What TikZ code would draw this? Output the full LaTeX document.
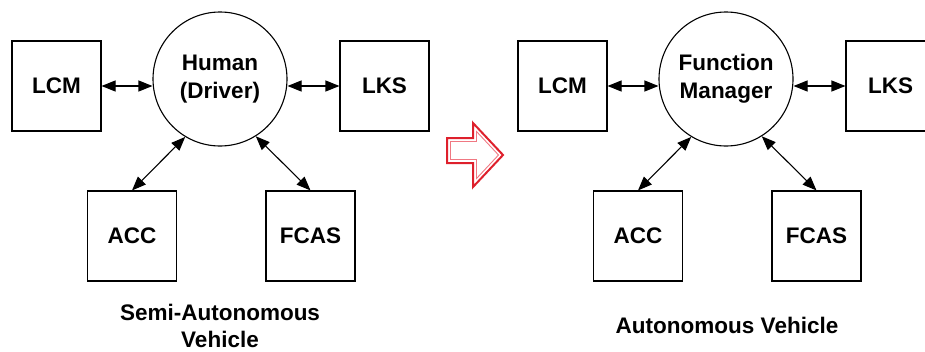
\documentclass[tikz,border=0pt]{standalone}
\usepackage{fontspec}
\setmainfont{Liberation Sans}
\usetikzlibrary{arrows.meta}
\definecolor{arrowred}{RGB}{222,32,44}
\definecolor{arrowpink}{RGB}{240,120,130}
\begin{document}
\begin{tikzpicture}[x=1pt,y=-1pt,
  every node/.style={font=\fontsize{22.5}{28}\selectfont\bfseries},
  blk/.style={draw,line width=1.1pt,minimum width=89pt,minimum height=90pt,inner sep=0pt},
  hub/.style={draw,circle,line width=1.1pt,minimum size=134pt,inner sep=0pt,align=center},
  link/.style={{Triangle[length=14pt,width=11pt]}-{Triangle[length=14pt,width=11pt]},line width=1.1pt},
  caption/.style={align=center,font=\fontsize{22.5}{27}\selectfont\bfseries}]
\useasboundingbox (0,0) rectangle (925,351);
% left diagram
\node[blk] (lcmA) at (56.5,86) {LCM};
\node[blk] (lksA) at (384.5,86) {LKS};
\node[blk] (accA) at (132,236) {ACC};
\node[blk] (fcasA) at (310.5,236) {FCAS};
\node[hub] (human) at (220,79) {Human\\(Driver)};
\draw[link] (lcmA.east) -- (human.west |- lcmA.east);
\draw[link] (human.east |- lksA.west) -- (lksA.west);
\draw[link] (human.239) -- (accA.north);
\draw[link] (human.302) -- (fcasA.north);
\node[caption,anchor=base] (capA) at (220,347) {Semi-Autonomous\\Vehicle};
% transition arrow
\draw[arrowred,line width=2pt,line join=miter]
  (447,138) -- (473,138) -- (473,123) -- (503,155) -- (473,187) -- (473,163) -- (447,163) -- cycle;
\draw[arrowpink,line width=0.9pt,line join=miter]
  (450.5,141.5) -- (476.5,141.5) -- (476.5,131.5) -- (498.5,155) -- (476.5,178.5) -- (476.5,159.5) -- (450.5,159.5) -- cycle;
% right diagram
\node[blk] (lcmB) at (562.5,86) {LCM};
\node[blk] (lksB) at (890.5,86) {LKS};
\node[blk] (accB) at (638,236) {ACC};
\node[blk] (fcasB) at (816.5,236) {FCAS};
\node[hub] (fm) at (726,79) {Function\\Manager};
\draw[link] (lcmB.east) -- (fm.west |- lcmB.east);
\draw[link] (fm.east |- lksB.west) -- (lksB.west);
\draw[link] (fm.239) -- (accB.north);
\draw[link] (fm.302) -- (fcasB.north);
\node[caption,anchor=base] (capB) at (727,333) {Autonomous Vehicle};
\end{tikzpicture}
\end{document}
